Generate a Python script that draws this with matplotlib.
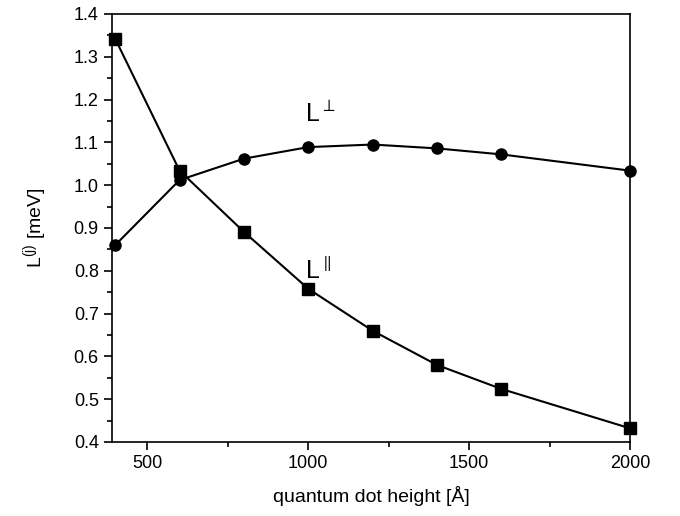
import matplotlib
matplotlib.use('Agg')
import matplotlib.pyplot as plt
from matplotlib.ticker import MultipleLocator

plt.rcParams['font.family'] = ['Liberation Sans', 'DejaVu Sans']
plt.rcParams['mathtext.fontset'] = 'custom'
plt.rcParams['mathtext.rm'] = 'Liberation Sans'
plt.rcParams['mathtext.it'] = 'Liberation Sans'

height = [400, 600, 800, 1000, 1200, 1400, 1600, 2000]
l_par = [1.342, 1.034, 0.891, 0.758, 0.660, 0.580, 0.524, 0.432]
l_perp = [0.860, 1.012, 1.062, 1.089, 1.095, 1.086, 1.072, 1.034]

fig = plt.figure(figsize=(6.8, 5.16), dpi=100)
ax = fig.add_axes([112 / 680, 74 / 516, 518 / 680, 428 / 516])

ax.plot(height, l_par, 'k-', marker='s', markersize=8, linewidth=1.5, clip_on=False)
ax.plot(height, l_perp, 'k-', marker='o', markersize=8, linewidth=1.5, clip_on=False)

ax.text(990, 1.165, r'L$^{\perp}$', fontsize=18, ha='left', va='center')
ax.text(990, 0.80, r'L$^{\parallel}$', fontsize=18, ha='left', va='center')

ax.set_xlim(390, 2000)
ax.set_ylim(0.4, 1.4)
ax.xaxis.set_major_locator(MultipleLocator(500))
ax.xaxis.set_minor_locator(MultipleLocator(250))
ax.yaxis.set_major_locator(MultipleLocator(0.1))
ax.yaxis.set_minor_locator(MultipleLocator(0.05))
ax.tick_params(which='major', direction='out', length=6, width=1.2, labelsize=13)
ax.tick_params(which='minor', direction='out', length=3.5, width=1.2)
for s in ax.spines.values():
    s.set_linewidth(1.2)

ax.set_xlabel('quantum dot height [Å]', fontsize=14, labelpad=10)
ax.set_ylabel(r'L$^{(j)}$ [meV]', fontsize=14, labelpad=18)

fig.savefig('out.png', dpi=100)
